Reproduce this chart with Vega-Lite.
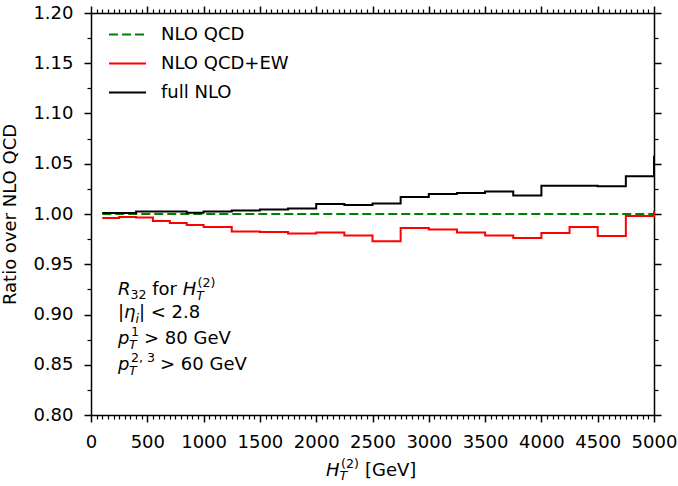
{
  "$schema": "https://vega.github.io/schema/vega-lite/v6.json",
  "width": 563,
  "height": 402,
  "autosize": {"type": "none"},
  "padding": {"left": 91, "top": 13, "right": 24, "bottom": 71},
  "background": "white",
  "config": {
    "view": {"stroke": null},
    "font": "DejaVu Sans",
    "axis": {
      "grid": false,
      "domainColor": "black",
      "domainWidth": 1.5,
      "tickColor": "black",
      "tickWidth": 1.5,
      "tickSize": 7,
      "labelColor": "black",
      "labelFont": "DejaVu Sans",
      "labelFontSize": 18,
      "labelFlush": false,
      "labelOverlap": false,
      "labelBound": false,
      "titleColor": "black",
      "titleFont": "DejaVu Sans",
      "titleFontSize": 18,
      "titleFontWeight": "normal"
    }
  },
  "datasets": {
    "curves": [
      {"series": "NLO QCD", "ht": 100, "ratio": 1.0},
      {"series": "NLO QCD", "ht": 5000, "ratio": 1.0},
      {"series": "NLO QCD+EW", "ht": 100, "ratio": 0.996},
      {"series": "NLO QCD+EW", "ht": 250, "ratio": 0.997},
      {"series": "NLO QCD+EW", "ht": 400, "ratio": 0.9965},
      {"series": "NLO QCD+EW", "ht": 550, "ratio": 0.993},
      {"series": "NLO QCD+EW", "ht": 700, "ratio": 0.991},
      {"series": "NLO QCD+EW", "ht": 850, "ratio": 0.989},
      {"series": "NLO QCD+EW", "ht": 1000, "ratio": 0.987},
      {"series": "NLO QCD+EW", "ht": 1250, "ratio": 0.9825},
      {"series": "NLO QCD+EW", "ht": 1500, "ratio": 0.982},
      {"series": "NLO QCD+EW", "ht": 1750, "ratio": 0.9805},
      {"series": "NLO QCD+EW", "ht": 2000, "ratio": 0.9815},
      {"series": "NLO QCD+EW", "ht": 2250, "ratio": 0.9785},
      {"series": "NLO QCD+EW", "ht": 2500, "ratio": 0.973},
      {"series": "NLO QCD+EW", "ht": 2750, "ratio": 0.986},
      {"series": "NLO QCD+EW", "ht": 3000, "ratio": 0.9845},
      {"series": "NLO QCD+EW", "ht": 3250, "ratio": 0.9815},
      {"series": "NLO QCD+EW", "ht": 3500, "ratio": 0.9785},
      {"series": "NLO QCD+EW", "ht": 3750, "ratio": 0.976},
      {"series": "NLO QCD+EW", "ht": 4000, "ratio": 0.981},
      {"series": "NLO QCD+EW", "ht": 4250, "ratio": 0.987},
      {"series": "NLO QCD+EW", "ht": 4500, "ratio": 0.978},
      {"series": "NLO QCD+EW", "ht": 4750, "ratio": 0.998},
      {"series": "NLO QCD+EW", "ht": 5000, "ratio": 1.003},
      {"series": "full NLO", "ht": 100, "ratio": 1.001},
      {"series": "full NLO", "ht": 250, "ratio": 1.001},
      {"series": "full NLO", "ht": 400, "ratio": 1.0024},
      {"series": "full NLO", "ht": 550, "ratio": 1.0024},
      {"series": "full NLO", "ht": 700, "ratio": 1.0024},
      {"series": "full NLO", "ht": 850, "ratio": 1.0013},
      {"series": "full NLO", "ht": 1000, "ratio": 1.0024},
      {"series": "full NLO", "ht": 1250, "ratio": 1.0034},
      {"series": "full NLO", "ht": 1500, "ratio": 1.0044},
      {"series": "full NLO", "ht": 1750, "ratio": 1.0055},
      {"series": "full NLO", "ht": 2000, "ratio": 1.010},
      {"series": "full NLO", "ht": 2250, "ratio": 1.009},
      {"series": "full NLO", "ht": 2500, "ratio": 1.0105},
      {"series": "full NLO", "ht": 2750, "ratio": 1.017},
      {"series": "full NLO", "ht": 3000, "ratio": 1.020},
      {"series": "full NLO", "ht": 3250, "ratio": 1.021},
      {"series": "full NLO", "ht": 3500, "ratio": 1.0225},
      {"series": "full NLO", "ht": 3750, "ratio": 1.0185},
      {"series": "full NLO", "ht": 4000, "ratio": 1.028},
      {"series": "full NLO", "ht": 4250, "ratio": 1.028},
      {"series": "full NLO", "ht": 4500, "ratio": 1.0275},
      {"series": "full NLO", "ht": 4750, "ratio": 1.0375},
      {"series": "full NLO", "ht": 5000, "ratio": 1.058}
    ],
    "ann_italic": [
      {"x": 240, "y": 0.9191, "text": "R"},
      {"x": 814, "y": 0.9191, "text": "H"},
      {"x": 293, "y": 0.8961, "text": "η"},
      {"x": 240, "y": 0.8702, "text": "p"},
      {"x": 240, "y": 0.8443, "text": "p"},
      {"x": 2087, "y": 0.7395, "text": "H"}
    ],
    "ann_roman": [
      {"x": 543, "y": 0.9191, "text": "for"},
      {"x": 240, "y": 0.8961, "text": "|"},
      {"x": 426, "y": 0.8961, "text": "| < 2.8"},
      {"x": 471, "y": 0.8702, "text": "> 80 GeV"},
      {"x": 613, "y": 0.8443, "text": "> 60 GeV"},
      {"x": 2433, "y": 0.7395, "text": "[GeV]"}
    ],
    "ann_sub_italic": [
      {"x": 935, "y": 0.9191, "text": "T"},
      {"x": 395, "y": 0.8961, "text": "i"},
      {"x": 337, "y": 0.8702, "text": "T"},
      {"x": 337, "y": 0.8443, "text": "T"},
      {"x": 2207, "y": 0.7395, "text": "T"}
    ],
    "ann_sub_roman": [
      {"x": 351, "y": 0.9191, "text": "32"}
    ],
    "ann_sup_roman": [
      {"x": 946, "y": 0.9191, "text": "(2)"},
      {"x": 355, "y": 0.8702, "text": "1"},
      {"x": 355, "y": 0.8443, "text": "2, 3"},
      {"x": 2220, "y": 0.7395, "text": "(2)"}
    ]
  },
  "layer": [
    {
      "data": {"name": "curves"},
      "mark": {"type": "line", "interpolate": "step-after", "strokeWidth": 2},
      "encoding": {
        "x": {
          "field": "ht", "type": "quantitative",
          "scale": {"domain": [0, 5000], "nice": false, "zero": false},
          "axis": {"orient": "bottom", "title": null, "format": "d", "labelPadding": 11,
                   "values": [0, 500, 1000, 1500, 2000, 2500, 3000, 3500, 4000, 4500, 5000]}
        },
        "y": {
          "field": "ratio", "type": "quantitative",
          "scale": {"domain": [0.8, 1.2], "nice": false, "zero": false},
          "axis": {"orient": "left", "title": "Ratio over NLO QCD", "format": ".2f", "labelPadding": 11,
                   "titlePadding": 13,
                   "values": [0.8, 0.85, 0.9, 0.95, 1.0, 1.05, 1.1, 1.15, 1.2]}
        },
        "color": {
          "field": "series", "type": "nominal",
          "scale": {"domain": ["NLO QCD", "NLO QCD+EW", "full NLO"], "range": ["#008000", "#ff0000", "#000000"]},
          "legend": {"orient": "none", "legendX": 17, "legendY": 2, "title": null, "symbolType": "stroke",
                     "symbolSize": 1369, "symbolStrokeWidth": 2, "labelFontSize": 18, "labelFont": "DejaVu Sans",
                     "labelColor": "black", "labelOffset": 14, "padding": 0, "rowPadding": 0}
        },
        "strokeDash": {
          "field": "series", "type": "nominal",
          "scale": {"domain": ["NLO QCD", "NLO QCD+EW", "full NLO"], "range": [[9, 4], [1, 0], [1, 0]]},
          "legend": {"orient": "none", "legendX": 17, "legendY": 2, "title": null, "symbolType": "stroke",
                     "symbolSize": 1369, "symbolStrokeWidth": 2, "labelFontSize": 18, "labelFont": "DejaVu Sans",
                     "labelColor": "black", "labelOffset": 14, "padding": 0, "rowPadding": 0}
        }
      }
    },
    {
      "data": {"name": "ann_italic"},
      "mark": {"type": "text", "align": "left", "baseline": "alphabetic", "font": "DejaVu Sans", "fontSize": 18, "fontStyle": "italic", "color": "black"},
      "encoding": {
        "x": {"field": "x", "type": "quantitative", "scale": {"domain": [0, 5000], "nice": false, "zero": false},
              "axis": {"orient": "bottom", "title": null, "labels": false, "domain": false, "tickSize": 4, "tickWidth": 1.2,
                       "values": [50,100,150,200,250,300,350,400,450,550,600,650,700,750,800,850,900,950,1050,1100,1150,1200,1250,1300,1350,1400,1450,1550,1600,1650,1700,1750,1800,1850,1900,1950,2050,2100,2150,2200,2250,2300,2350,2400,2450,2550,2600,2650,2700,2750,2800,2850,2900,2950,3050,3100,3150,3200,3250,3300,3350,3400,3450,3550,3600,3650,3700,3750,3800,3850,3900,3950,4050,4100,4150,4200,4250,4300,4350,4400,4450,4550,4600,4650,4700,4750,4800,4850,4900,4950]}},
        "y": {"field": "y", "type": "quantitative", "scale": {"domain": [0.8, 1.2], "nice": false, "zero": false},
              "axis": {"orient": "left", "title": null, "labels": false, "domain": false, "tickSize": 4, "tickWidth": 1.2,
                       "values": [0.825, 0.875, 0.925, 0.975, 1.025, 1.075, 1.125, 1.175]}},
        "text": {"field": "text"}
      }
    },
    {
      "data": {"name": "ann_roman"},
      "mark": {"type": "text", "align": "left", "baseline": "alphabetic", "font": "DejaVu Sans", "fontSize": 18, "color": "black"},
      "encoding": {
        "x": {"field": "x", "type": "quantitative", "scale": {"domain": [0, 5000], "nice": false, "zero": false},
              "axis": {"orient": "top", "title": null, "labels": false,
                       "values": [0, 500, 1000, 1500, 2000, 2500, 3000, 3500, 4000, 4500, 5000]}},
        "y": {"field": "y", "type": "quantitative", "scale": {"domain": [0.8, 1.2], "nice": false, "zero": false},
              "axis": {"orient": "right", "title": null, "labels": false,
                       "values": [0.8, 0.85, 0.9, 0.95, 1.0, 1.05, 1.1, 1.15, 1.2]}},
        "text": {"field": "text"}
      }
    },
    {
      "data": {"name": "ann_sub_italic"},
      "mark": {"type": "text", "align": "left", "baseline": "alphabetic", "font": "DejaVu Sans", "fontSize": 12.6, "fontStyle": "italic", "color": "black", "dy": 4.5},
      "encoding": {
        "x": {"field": "x", "type": "quantitative", "scale": {"domain": [0, 5000], "nice": false, "zero": false},
              "axis": {"orient": "top", "title": null, "labels": false, "domain": false, "tickSize": 4, "tickWidth": 1.2,
                       "values": [50,100,150,200,250,300,350,400,450,550,600,650,700,750,800,850,900,950,1050,1100,1150,1200,1250,1300,1350,1400,1450,1550,1600,1650,1700,1750,1800,1850,1900,1950,2050,2100,2150,2200,2250,2300,2350,2400,2450,2550,2600,2650,2700,2750,2800,2850,2900,2950,3050,3100,3150,3200,3250,3300,3350,3400,3450,3550,3600,3650,3700,3750,3800,3850,3900,3950,4050,4100,4150,4200,4250,4300,4350,4400,4450,4550,4600,4650,4700,4750,4800,4850,4900,4950]}},
        "y": {"field": "y", "type": "quantitative", "scale": {"domain": [0.8, 1.2], "nice": false, "zero": false},
              "axis": {"orient": "right", "title": null, "labels": false, "domain": false, "tickSize": 4, "tickWidth": 1.2,
                       "values": [0.825, 0.875, 0.925, 0.975, 1.025, 1.075, 1.125, 1.175]}},
        "text": {"field": "text"}
      }
    },
    {
      "data": {"name": "ann_sub_roman"},
      "mark": {"type": "text", "align": "left", "baseline": "alphabetic", "font": "DejaVu Sans", "fontSize": 12.6, "color": "black", "dy": 4},
      "encoding": {
        "x": {"field": "x", "type": "quantitative", "scale": {"domain": [0, 5000], "nice": false, "zero": false}, "axis": null},
        "y": {"field": "y", "type": "quantitative", "scale": {"domain": [0.8, 1.2], "nice": false, "zero": false}, "axis": null},
        "text": {"field": "text"}
      }
    },
    {
      "data": {"name": "ann_sup_roman"},
      "mark": {"type": "text", "align": "left", "baseline": "alphabetic", "font": "DejaVu Sans", "fontSize": 12.6, "color": "black", "dy": -8},
      "encoding": {
        "x": {"field": "x", "type": "quantitative", "scale": {"domain": [0, 5000], "nice": false, "zero": false}, "axis": null},
        "y": {"field": "y", "type": "quantitative", "scale": {"domain": [0.8, 1.2], "nice": false, "zero": false}, "axis": null},
        "text": {"field": "text"}
      }
    }
  ],
  "resolve": {"axis": {"x": "independent", "y": "independent"}}
}
